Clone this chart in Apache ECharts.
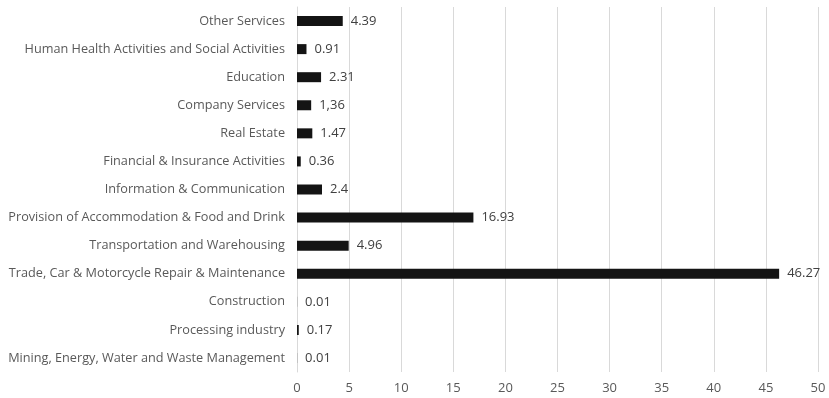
<!DOCTYPE html>
<html>
<head>
<meta charset="utf-8">
<script src="https://cdn.jsdelivr.net/npm/echarts@6/dist/echarts.min.js"></script>
<style>
  html, body { margin: 0; padding: 0; background: #fff; }
  #chart { width: 829px; height: 398px; }
</style>
</head>
<body>
<div id="chart"></div>
<script>
// Sectors, listed bottom to top as they appear on the category axis
const sectors = [
  'Mining, Energy, Water and Waste Management',
  'Processing industry',
  'Construction',
  'Trade, Car & Motorcycle Repair & Maintenance',
  'Transportation and Warehousing',
  'Provision of Accommodation & Food and Drink',
  'Information & Communication',
  'Financial & Insurance Activities',
  'Real Estate',
  'Company Services',
  'Education',
  'Human Health Activities and Social Activities',
  'Other Services'
];

// Share per sector
const shares = [0.01, 0.17, 0.01, 46.27, 4.96, 16.93, 2.4, 0.36, 1.47, 1.36, 2.31, 0.91, 4.39];

// Printed labels (one uses a decimal comma)
const shareLabels = ['0.01', '0.17', '0.01', '46.27', '4.96', '16.93', '2.4', '0.36', '1.47', '1,36', '2.31', '0.91', '4.39'];

const xTicks = { min: 0, max: 50, interval: 5 };

const chart = echarts.init(document.getElementById('chart'), null, { renderer: 'canvas' });
const font = 'Open Sans';

chart.setOption({
  animation: false,
  grid: { left: 297, right: 11, top: 7, bottom: 26, containLabel: false },
  xAxis: {
    type: 'value',
    min: xTicks.min, max: xTicks.max, interval: xTicks.interval,
    axisLine: { show: false },
    axisTick: { show: false },
    splitLine: { show: true, lineStyle: { color: '#d9d9d9', width: 1 } },
    axisLabel: { color: '#595959', fontFamily: font, fontSize: 13, margin: 10 }
  },
  yAxis: {
    type: 'category',
    data: sectors,
    axisLine: { show: true, lineStyle: { color: '#d9d9d9', width: 1 } },
    axisTick: { show: false },
    axisLabel: { color: '#595959', fontFamily: font, fontSize: 12.7, margin: 12 }
  },
  series: [{
    type: 'bar',
    data: shares,
    barWidth: 10,
    itemStyle: { color: '#141414' },
    label: {
      show: true,
      position: 'right',
      distance: 8,
      color: '#404040',
      fontFamily: font,
      fontSize: 13,
      formatter: p => shareLabels[p.dataIndex]
    }
  }]
});
</script>
</body>
</html>
